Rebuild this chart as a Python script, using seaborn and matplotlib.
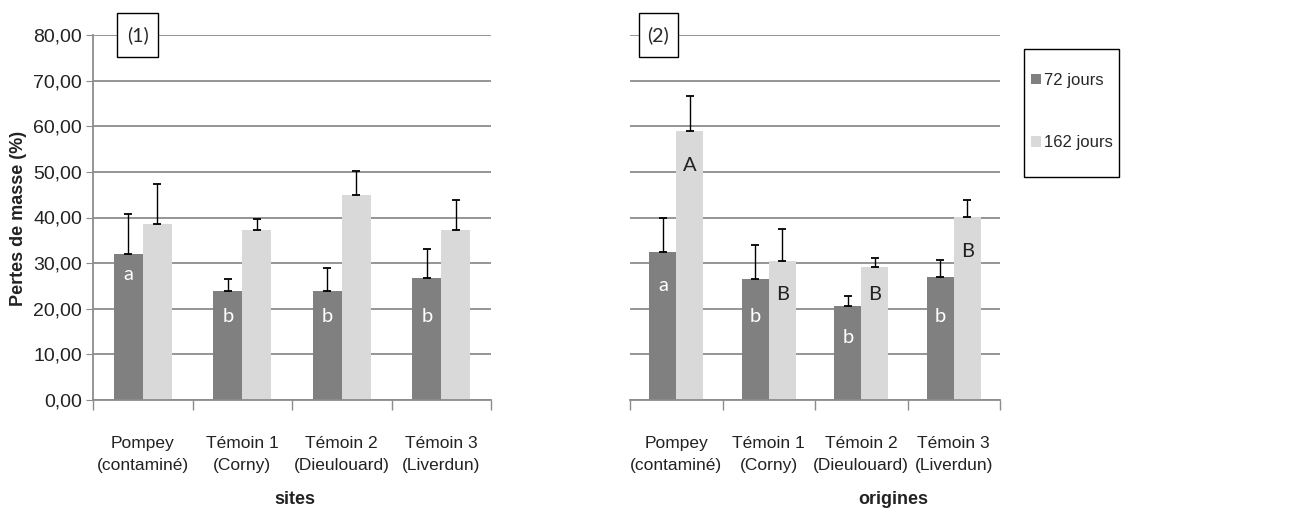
import numpy as np
import pandas as pd
import matplotlib
matplotlib.use("Agg")
import matplotlib.pyplot as plt
from matplotlib.patches import Patch, Rectangle
from matplotlib.ticker import FuncFormatter, FixedLocator
import seaborn as sns

# ------------------------
# DATA
# ------------------------
categories = ["Pompey\n(contaminé)", "Témoin 1\n(Corny)", "Témoin 2\n(Dieulouard)", "Témoin 3\n(Liverdun)"]
durations = ["72 jours", "162 jours"]

sites_72 = [32.0, 23.9, 23.9, 26.7]
sites_72_err = [8.7, 2.6, 5.1, 6.4]
sites_162 = [38.6, 37.3, 44.9, 37.3]
sites_162_err = [8.7, 2.4, 5.4, 6.5]

orig_72 = [32.5, 26.6, 20.7, 26.9]
orig_72_err = [7.5, 7.4, 2.0, 3.7]
orig_162 = [59.0, 30.4, 29.2, 40.2]
orig_162_err = [7.7, 7.1, 2.0, 3.6]

# significance letters and where they sit (y in data units)
sites_72_letters = ["a", "b", "b", "b"]
sites_72_letter_y = [27.4, 18.3, 18.3, 18.3]
orig_72_letters = ["a", "b", "b", "b"]
orig_72_letter_y = [25.0, 18.3, 13.7, 18.3]
orig_162_letters = ["A", "B", "B", "B"]
orig_162_letter_y = [51.4, 23.2, 23.2, 32.5]

DARK = "#808080"
LIGHT = "#d9d9d9"
GRID = "#8c8c8c"
SANS = ["Liberation Sans", "DejaVu Sans"]
CAL = ["Lato", "DejaVu Sans"]

sns.set_style("white")
plt.rcParams["font.family"] = SANS


def make_df(v72, v162):
    return pd.DataFrame({
        "cat": categories * 2,
        "duree": [durations[0]] * 4 + [durations[1]] * 4,
        "val": v72 + v162,
    })


fig = plt.figure(figsize=(13, 5.15), dpi=100)
W, H = 1300, 515
y0, y1 = 400, 35
ax1 = fig.add_axes([93 / W, 1 - y0 / H, (491 - 93) / W, (y0 - y1) / H])
ax2 = fig.add_axes([630 / W, 1 - y0 / H, (1000 - 630) / W, (y0 - y1) / H])

panels = [
    (ax1, sites_72, sites_72_err, sites_162, sites_162_err, "(1)"),
    (ax2, orig_72, orig_72_err, orig_162, orig_162_err, "(2)"),
]

for ax, v72, e72, v162, e162, tag in panels:
    df = make_df(v72, v162)
    sns.barplot(data=df, x="cat", y="val", hue="duree", hue_order=durations,
                palette=[DARK, LIGHT], width=0.58, errorbar=None, ax=ax,
                legend=False, saturation=1, linewidth=0, zorder=3)
    for cont, errs in zip(ax.containers, [e72, e162]):
        xs = [b.get_x() + b.get_width() / 2 for b in cont]
        hs = [b.get_height() for b in cont]
        ax.errorbar(xs, hs, yerr=[[0] * len(errs), errs], fmt="none",
                    ecolor="black", elinewidth=1, capsize=3, capthick=1.3, zorder=4)
    ax.set_ylim(0, 80)
    ax.set_xlim(-0.5, 3.5)
    ax.set_yticks(np.arange(0, 81, 10))
    ax.yaxis.set_major_formatter(FuncFormatter(lambda v, p: f"{v:.2f}".replace(".", ",")))
    ax.grid(axis="y", color=GRID, lw=1.3, zorder=0)
    ax.set_axisbelow(True)
    for s in ["top", "right"]:
        ax.spines[s].set_visible(False)
    ax.spines["bottom"].set_color(GRID)
    ax.spines["bottom"].set_linewidth(1.3)
    ax.spines["bottom"].set_zorder(5)
    ax.xaxis.set_minor_locator(FixedLocator([-0.5, 0.5, 1.5, 2.5, 3.5]))
    ax.tick_params(axis="x", which="minor", length=7, color=GRID, width=1, direction="out", bottom=True)
    ax.tick_params(axis="x", which="major", length=0, pad=26, labelsize=12.5, labelcolor="#222222")
    for t in ax.get_xticklabels():
        t.set_linespacing(1.6)
    ax.set_xlabel("")
    ax.set_ylabel("")
    # panel tag box
    bw = 41 / 398 if ax is ax1 else 39 / 370
    bx = 24 / 398 if ax is ax1 else 9 / 370
    ax.add_patch(Rectangle((bx, 1 - 22 / 365), bw, 44 / 365, transform=ax.transAxes,
                           facecolor="white", edgecolor="black", lw=1, clip_on=False, zorder=6))
    ax.text(bx + bw / 2, 1.0, tag, transform=ax.transAxes, ha="center", va="center",
            fontsize=14, family=CAL, zorder=7)

ax1.spines["left"].set_color(GRID)
ax1.spines["left"].set_linewidth(1.3)
ax1.tick_params(axis="y", length=5, color=GRID, left=True, labelsize=14, labelcolor="#222222", pad=3)
ax2.spines["left"].set_visible(False)
ax2.tick_params(axis="y", left=False, labelleft=False)

# letters on bars
def put_letters(ax, cont_idx, letters, ys, color):
    for b, lt, y in zip(ax.containers[cont_idx], letters, ys):
        ax.text(b.get_x() + b.get_width() / 2, y, lt, ha="center", va="center",
                color=color, fontsize=14.5, family=CAL, zorder=6)

put_letters(ax1, 0, sites_72_letters, sites_72_letter_y, "white")
put_letters(ax2, 0, orig_72_letters, orig_72_letter_y, "white")
put_letters(ax2, 1, orig_162_letters, orig_162_letter_y, "#222222")

fig.text(295 / W, 1 - 500 / H, "sites", ha="center", va="center", fontsize=13,
         fontweight="bold", color="#222222")
fig.text(893 / W, 1 - 500 / H, "origines", ha="center", va="center", fontsize=13,
         fontweight="bold", color="#222222")
fig.text(19 / W, 1 - 218 / H, "Pertes de masse (%)", rotation=90, ha="center", va="center",
         fontsize=13, fontweight="bold", color="#222222")

# legend: frame drawn by hand, entries via fig.legend
fig.add_artist(Rectangle((1024 / W, 1 - 177 / H), 95 / W, 128 / H, transform=fig.transFigure,
                         facecolor="white", edgecolor="black", lw=1))
handles = [Patch(facecolor=DARK, edgecolor="none"), Patch(facecolor=LIGHT, edgecolor="none")]
leg = fig.legend(handles, durations, loc="upper left", bbox_to_anchor=(1031 / W, 1 - 73 / H),
                 frameon=False, fontsize=12, handlelength=0.6, handleheight=0.6,
                 handletextpad=0.2, labelspacing=2.85, borderpad=0, borderaxespad=0)

fig.savefig("out.png", dpi=100)
